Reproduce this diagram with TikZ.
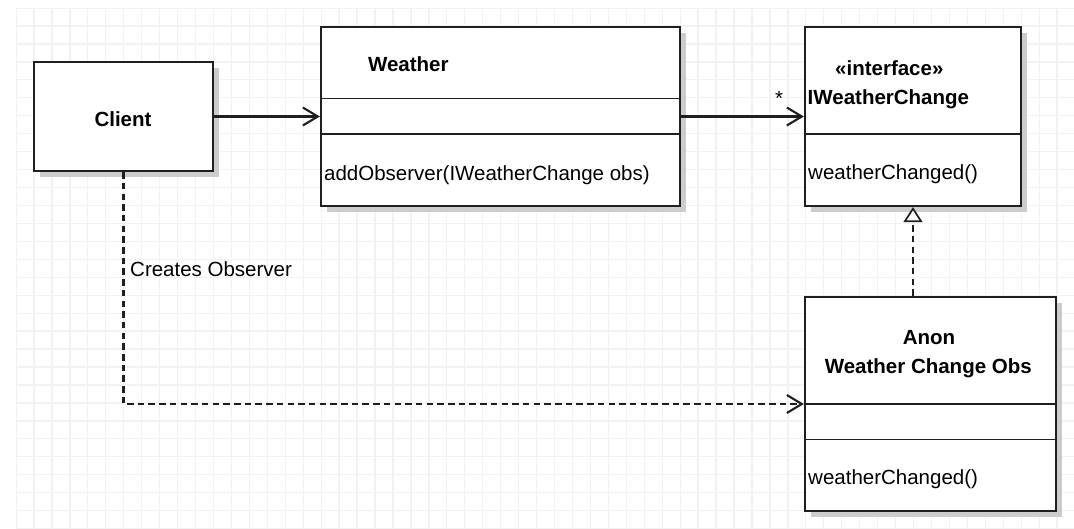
\documentclass[tikz,border=0pt]{standalone}
\usepackage{fontspec}
\setmainfont{Liberation Sans}
\usetikzlibrary{arrows.meta,shadows}

\begin{document}
\begin{tikzpicture}[x=1pt,y=-1pt,
  font=\fontsize{20.5}{24}\selectfont,
  gridline/.style={draw=black!5, line width=1.3pt},
  umlbox/.style={draw=black!88, line width=2.3pt, fill=white, inner sep=0pt,
    general shadow={fill=black!20, shadow xshift=6pt, shadow yshift=-6pt}},
  divider/.style={draw=black!88, line width=1.9pt},
  txt/.style={inner sep=0pt, anchor=base},
  txtl/.style={inner sep=0pt, anchor=base west},
  bold/.style={font=\fontsize{20.5}{24}\selectfont\bfseries},
  assoc/.style={draw=black!88, line width=2.1pt, -{Straight Barb[length=15pt,width=18pt]}},
  dep/.style={assoc, dash pattern=on 6.5pt off 4.2pt},
  real/.style={draw=black!88, line width=2.1pt, dash pattern=on 6.5pt off 4.2pt,
    -{Triangle[length=15pt,width=19pt,fill=white,line width=1.7pt]}},
]
% page and background grid
\useasboundingbox[fill=white] (0,0) rectangle (1074,528);
\begin{scope}
  \clip (16,8) rectangle (1074,528);
  \foreach \i in {0,...,59}
    \draw[gridline] (16+\i*17.95,8) -- (16+\i*17.95,528);
  \foreach \j in {0,...,29}
    \draw[gridline] (16,8+\j*17.95) -- (1074,8+\j*17.95);
\end{scope}

% class boxes
\node[umlbox, minimum width=179pt, minimum height=109pt] (client) at (123.5,116.5) {};
\node[umlbox, minimum width=359pt, minimum height=179pt] (weather) at (500.5,116.5) {};
\node[umlbox, minimum width=216pt, minimum height=179pt] (iw) at (913,116.5) {};
\node[umlbox, minimum width=251pt, minimum height=214pt] (anon) at (930.5,404) {};

% compartment dividers
\draw[divider] (weather.west |- 0,98.5) -- (weather.east |- 0,98.5);
\draw[divider] (weather.west |- 0,134) -- (weather.east |- 0,134);
\draw[divider] (iw.west |- 0,134) -- (iw.east |- 0,134);
\draw[divider] (anon.west |- 0,404) -- (anon.east |- 0,404);
\draw[divider] (anon.west |- 0,439.5) -- (anon.east |- 0,439.5);

% texts
\node[txt, bold] (clientname) at (123,126) {Client};
\node[txt, bold] (weathername) at (408.3,71.7) {Weather};
\node[txtl] (addobs) at (324,180) {addObserver(IWeatherChange obs)};
\node[txt, bold] (stereo) at (889.3,75) {«interface»};
\node[txtl, bold] (iwname) at (807.5,104.3) {IWeatherChange};
\node[txtl] (iwop) at (808,179.3) {weatherChanged()};
\node[txt, bold] (anon1) at (929,344.3) {Anon};
\node[txt, bold] (anon2) at (928.3,373.3) {Weather Change Obs};
\node[txtl] (anonop) at (808,484.3) {weatherChanged()};

% connectors
\draw[assoc] (client.east) -- (weather.west);
\draw[assoc] (weather.east) -- (iw.west);
\node[txt] (mult) at (779,105) {*};
\draw[real] (iw.south |- anon.north) -- (iw.south);
\draw[dep] (client.south) |- (anon.west);
\node[txtl] (creates) at (130,276.7) {Creates Observer};
\end{tikzpicture}
\end{document}
